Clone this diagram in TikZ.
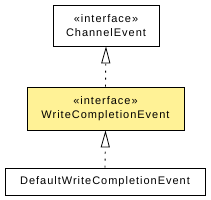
\documentclass[tikz,border=0pt]{standalone}
\usepackage{fontspec}
\newfontfamily\umlfont{Liberation Sans}[LetterSpace=9]
\definecolor{ifaceyellow}{RGB}{255,242,150}
\usepackage{tikz}
\usetikzlibrary{arrows.meta,positioning}

\begin{document}
\begin{tikzpicture}[
  x=1pt,y=-1pt,
  font=\umlfont\fontsize{11}{14}\selectfont,
  umlbox/.style={draw,line width=0.8pt,inner sep=0pt,align=center},
  iface/.style={umlbox,fill=ifaceyellow},
  realize/.style={line width=0.9pt,dash pattern=on 2pt off 5pt,
    -{Triangle[open,width=9pt,length=17pt,line width=0.8pt]}}
]
\useasboundingbox (0,0) rectangle (211,200);
% interfaces
\node[umlbox,minimum width=106pt,minimum height=41pt] (chev) at (106,25.5)
  {«interface»\\ChannelEvent};
\node[iface,minimum width=157pt,minimum height=43pt] (wcev) at (105.5,108.5)
  {«interface»\\WriteCompletionEvent};
% implementation
\node[umlbox,minimum width=200pt,minimum height=27pt] (dwcev) at (105,181.5)
  {DefaultWriteCompletionEvent};
% realizations
\draw[realize] (wcev.north) -- (chev.south);
\draw[realize] (dwcev.north) -- (wcev.south);
\end{tikzpicture}
\end{document}
